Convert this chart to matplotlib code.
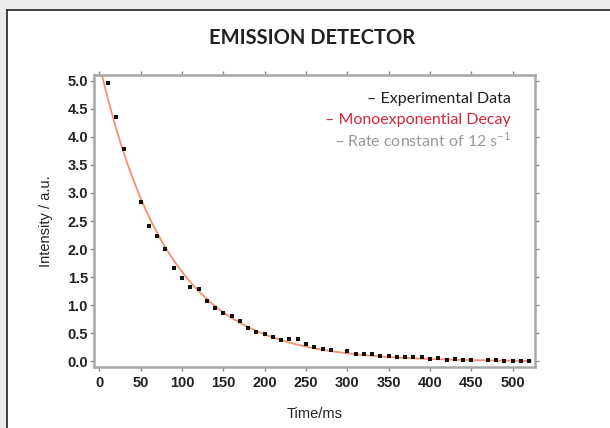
import numpy as np
import matplotlib
matplotlib.use("Agg")
import matplotlib.pyplot as plt
from matplotlib.lines import Line2D
from matplotlib.patches import Rectangle

#--------------------------- data ---------------------------

time_ms = [10, 20, 30, 50, 60, 70, 80, 90, 100, 110, 120, 130, 140, 150, 160,
           170, 180, 190, 200, 210, 220, 230, 240, 250, 260, 270, 280, 300,
           310, 320, 330, 340, 350, 360, 370, 380, 390, 400, 410, 420, 430,
           440, 450, 470, 480, 490, 500, 510, 520]
intensity = [4.95, 4.35, 3.78, 2.84, 2.42, 2.23, 2.01, 1.67, 1.48, 1.33, 1.29,
             1.07, 0.96, 0.87, 0.81, 0.72, 0.59, 0.53, 0.49, 0.43, 0.39, 0.40,
             0.40, 0.31, 0.26, 0.23, 0.21, 0.18, 0.14, 0.14, 0.14, 0.10, 0.10,
             0.08, 0.08, 0.08, 0.08, 0.05, 0.06, 0.03, 0.04, 0.02, 0.02, 0.03,
             0.03, 0.01, 0.01, 0.01, 0.01]

# monoexponential fit shown on the chart
amplitude = 5.3
rate_per_s = 12

xticks = [0, 50, 100, 150, 200, 250, 300, 350, 400, 450, 500]
yticks = [0.0, 0.5, 1.0, 1.5, 2.0, 2.5, 3.0, 3.5, 4.0, 4.5, 5.0]

W, H = 610, 428
fig = plt.figure(figsize=(W / 100, H / 100), dpi=100)
fig.patch.set_facecolor('#ebebeb')

# white panel with dark border on the left and top
fig.patches.append(Rectangle((7 / W, 0), 1 - 7 / W, 1 - 10 / H, transform=fig.transFigure,
                             facecolor='white', edgecolor='none', zorder=-10))
fig.lines.append(Line2D([7 / W, 7 / W], [0, 1 - 10 / H], transform=fig.transFigure,
                        color='#222222', lw=1.2, zorder=-5))
fig.lines.append(Line2D([7 / W, 1], [1 - 10 / H, 1 - 10 / H], transform=fig.transFigure,
                        color='#222222', lw=1.2, zorder=-5))

ax = fig.add_axes([93.5 / W, 1 - 366.5 / H, (535 - 93.5) / W, (366.5 - 75) / H])
ax.set_facecolor('white')

t_fit = np.linspace(0, 522, 400)
ax.plot(t_fit, amplitude * np.exp(-rate_per_s / 1000 * t_fit), color='#f7906c', lw=1.3, zorder=2)
ax.plot(time_ms, intensity, 's', color='#111111', markersize=2.5, markeredgewidth=0, zorder=3)

ax.set_xlim(-7, 527)
ax.set_ylim(-0.09, 5.1)
ax.set_xticks(xticks)
ax.set_yticks(yticks)
ax.set_yticklabels(['%.1f' % v for v in yticks])

for s in ax.spines.values():
    s.set_color('#a8a8a8')
    s.set_linewidth(1.8)

ax.tick_params(axis='both', which='both', length=3, width=1, color='#8a8a8a',
               labelsize=10.5, labelcolor='#222222')
ax.tick_params(axis='y', direction='out', pad=1)
ax.tick_params(axis='x', direction='out', pad=4)
ax.tick_params(top=True, right=True)
for lab in ax.get_xticklabels() + ax.get_yticklabels():
    lab.set_fontfamily('Liberation Sans')
    lab.set_fontweight('bold')

ax.set_xlabel('Time/ms', family='Liberation Sans', fontsize=10.5, color='#222222', labelpad=12)
ax.set_ylabel('Intensity / a.u.', family='Liberation Sans', fontsize=10.5, color='#222222', labelpad=10)

fig.text(312 / W, 1 - 38 / H, 'EMISSION DETECTOR', family='Lato', fontweight='bold',
         fontsize=14.5, color='#231f20', ha='center', va='center')

leg_x = 511 / W
fig.text(leg_x, 1 - 99 / H, '– Experimental Data', family='Lato', fontsize=11.5,
         color='#231f20', ha='right', va='center')
fig.text(leg_x, 1 - 120 / H, '– Monoexponential Decay', family='Lato', fontsize=11.5,
         color='#d2283c', ha='right', va='center')
fig.text(leg_x, 1 - 140 / H, r'– Rate constant of 12 s$^{\mathregular{-1}}$', family='Lato',
         fontsize=11.5, color='#9a9a9a', ha='right', va='center')

fig.savefig('out.png', dpi=100, facecolor=fig.get_facecolor())
